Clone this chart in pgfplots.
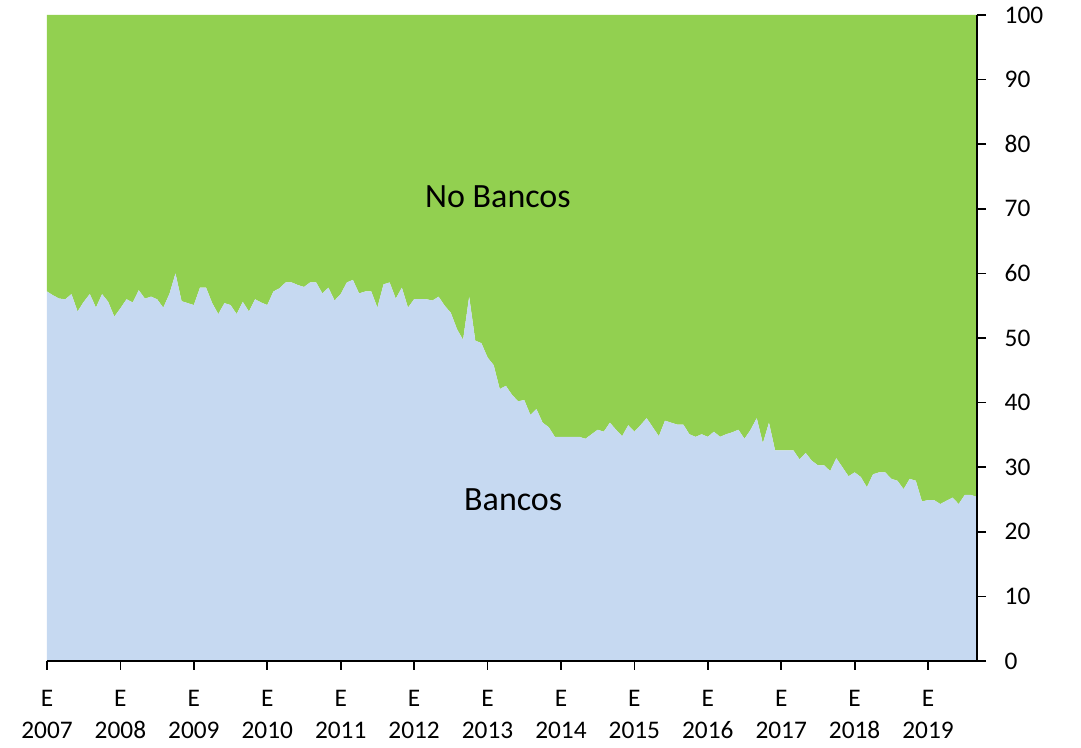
\documentclass[border=0pt]{standalone}
\usepackage{fontspec}
\setmainfont{Carlito}
\usepackage{pgfplots}
\usepackage{pgfplotstable}
\pgfplotsset{compat=1.18}
\definecolor{bancos}{HTML}{C6D9F1}
\definecolor{nobancos}{HTML}{92D050}
\pgfplotstableread{
i b
0 57.2
1 56.6
2 56.1
3 56.0
4 56.8
5 54.1
6 55.6
7 56.8
8 54.7
9 56.8
10 55.6
11 53.3
12 54.6
13 56.0
14 55.5
15 57.4
16 56.1
17 56.4
18 56.0
19 54.7
20 56.8
21 60.0
22 55.7
23 55.4
24 55.1
25 57.8
26 57.8
27 55.4
28 53.7
29 55.4
30 55.1
31 53.7
32 55.6
33 54.1
34 56.0
35 55.5
36 55.1
37 57.2
38 57.7
39 58.6
40 58.6
41 58.2
42 57.9
43 58.6
44 58.6
45 56.9
46 57.8
47 55.8
48 56.8
49 58.6
50 59.0
51 56.9
52 57.2
53 57.2
54 54.7
55 58.3
56 58.6
57 56.1
58 57.8
59 54.7
60 56.0
61 56.0
62 56.0
63 55.8
64 56.4
65 55.0
66 53.9
67 51.4
68 49.7
69 56.4
70 49.6
71 49.2
72 47.0
73 45.8
74 42.1
75 42.6
76 41.2
77 40.2
78 40.4
79 38.1
80 39.0
81 36.9
82 36.2
83 34.7
84 34.7
85 34.7
86 34.7
87 34.7
88 34.4
89 35.1
90 35.8
91 35.5
92 36.9
93 35.8
94 34.8
95 36.5
96 35.5
97 36.5
98 37.6
99 36.2
100 34.8
101 37.2
102 36.9
103 36.6
104 36.6
105 35.1
106 34.7
107 35.1
108 34.7
109 35.5
110 34.7
111 35.1
112 35.4
113 35.8
114 34.4
115 35.8
116 37.6
117 33.7
118 36.9
119 32.6
120 32.6
121 32.6
122 32.6
123 31.2
124 32.2
125 31.0
126 30.3
127 30.3
128 29.4
129 31.4
130 30.0
131 28.6
132 29.2
133 28.5
134 26.9
135 28.9
136 29.2
137 29.2
138 28.2
139 27.9
140 26.6
141 28.2
142 27.9
143 24.7
144 24.9
145 24.9
146 24.3
147 24.8
148 25.3
149 24.3
150 25.7
151 25.7
152 25.4
}\data
\begin{document}
\begin{tikzpicture}
\useasboundingbox (-35.25pt,-65.25pt) rectangle (775.5pt,495.75pt);
\begin{axis}[
  at={(0,0)}, anchor=south west,
  scale only axis, width=697.5pt, height=484.5pt,
  xmin=0, xmax=152, ymin=0, ymax=100,
  stack plots=y,
  axis on top,
  axis x line*=bottom, axis y line*=right,
  axis line style={black, line width=1.3pt},
  every tick/.style={black, line width=1.3pt},
  tick align=outside, major tick length=6.75pt,
  xtick={0,12,...,144},
  xticklabels={E\\2007,E\\2008,E\\2009,E\\2010,E\\2011,E\\2012,E\\2013,E\\2014,E\\2015,E\\2016,E\\2017,E\\2018,E\\2019},
  xticklabel style={align=center, font=\fontsize{19}{24}\selectfont, yshift=-12pt},
  ytick={0,10,...,100},
  yticklabel style={anchor=west, font=\fontsize{19}{23}\selectfont, xshift=10.5pt},
  /pgf/number format/assume math mode=true,
  clip=false,
]
\addplot[fill=bancos, draw=none] table[x=i, y=b] {\data} \closedcycle;
\addplot[fill=nobancos, draw=none] table[x=i, y expr=100-\thisrow{b}] {\data} \closedcycle;
\coordinate (nb) at (axis cs:73.7,71.8);
\coordinate (bb) at (axis cs:76.2,24.9);
\end{axis}
\node[font=\fontsize{25.5}{30}\selectfont] at (nb) {No Bancos};
\node[font=\fontsize{25.5}{30}\selectfont] at (bb) {Bancos};
\end{tikzpicture}
\end{document}
